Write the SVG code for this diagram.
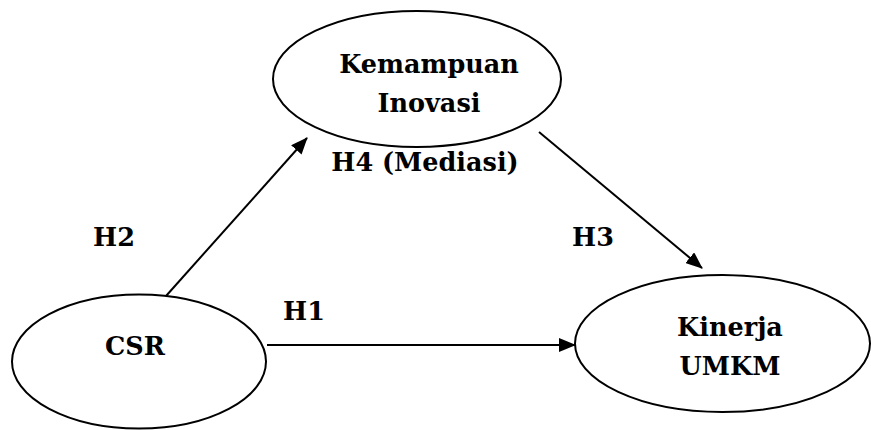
<svg xmlns="http://www.w3.org/2000/svg" width="871" height="430" viewBox="0 0 871 430">
<style>
.node ellipse{fill:#fff;stroke:#000;stroke-width:2}
text{font-family:"DejaVu Serif","Liberation Serif",serif;font-weight:700;font-size:25.5px;fill:#000;text-anchor:middle}
.conn line{stroke:#000;stroke-width:2;fill:none}
</style>
<defs>
<marker id="ah" markerUnits="userSpaceOnUse" markerWidth="18" markerHeight="14" refX="16" refY="7" orient="auto">
<path d="M0,0 L17,7 L0,14 Z" fill="#000"/>
</marker>
</defs>
<g id="kemampuan" class="node">
<ellipse cx="417" cy="79" rx="144" ry="68"/>
<text x="429" y="73">Kemampuan</text>
<text x="429" y="112">Inovasi</text>
</g>
<g id="csr" class="node">
<ellipse cx="139" cy="361.5" rx="127" ry="67"/>
<text x="135" y="355">CSR</text>
</g>
<g id="kinerja" class="node">
<ellipse cx="722.5" cy="343.5" rx="147.5" ry="68.5"/>
<text x="730" y="336">Kinerja</text>
<text x="730" y="375">UMKM</text>
</g>
<g id="connectors" class="conn">
<line x1="267" y1="345" x2="575" y2="345" marker-end="url(#ah)"/>
<line x1="166" y1="296" x2="307" y2="138" marker-end="url(#ah)"/>
<line x1="539" y1="132" x2="702" y2="268" marker-end="url(#ah)"/>
</g>
<g id="labels">
<text x="425" y="171">H4 (Mediasi)</text>
<text x="114" y="246">H2</text>
<text x="593" y="246">H3</text>
<text x="304" y="320">H1</text>
</g>
</svg>
